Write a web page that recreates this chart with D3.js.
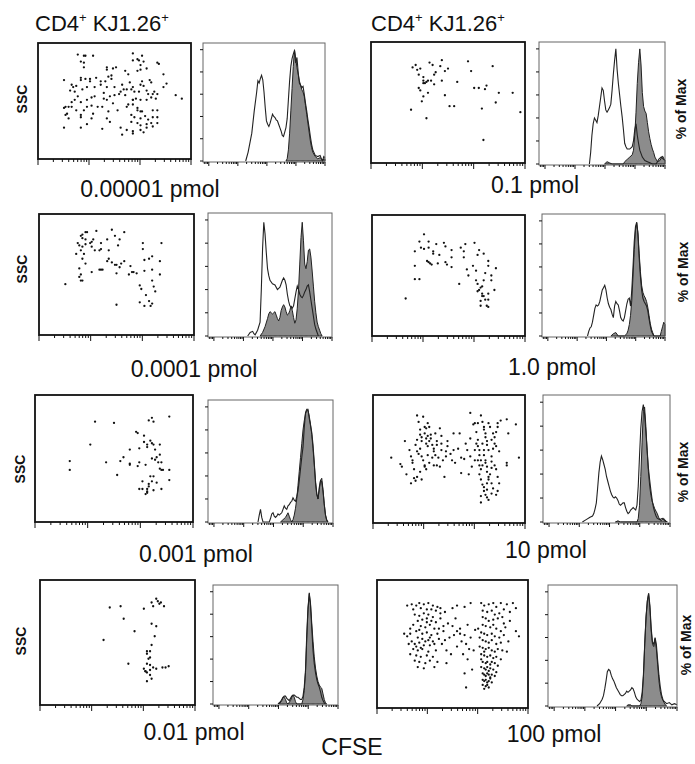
<!DOCTYPE html>
<html>
<head>
<meta charset="utf-8">
<script src="https://cdn.jsdelivr.net/npm/d3@7"></script>
<style>
body{margin:0;background:#fff}
svg text{font-family:"Liberation Sans",Arial,Helvetica,sans-serif;fill:#111}
</style>
</head>
<body>
<svg id="fig" width="695" height="764"></svg>
<script>
// panel order: row by row, left column then right column
const doses = ["0.00001 pmol","0.1 pmol","0.0001 pmol","1.0 pmol","0.001 pmol","10 pmol","0.01 pmol","100 pmol"];
const yTicksPct = [0,20,40,60,80,100];

// dot plots: [CFSE channel (0-100), SSC channel (0-100)]
const ssc_e5 = [[26,90],[30,89],[31,89],[36,89],[28,84],[30,83],[30,79],[28,70],[28,68],[31,69],[34,69],[34,67],[17,68],[22,64],[23,62],[25,63],[21,59],[24,58],[29,60],[32,62],[37,62],[38,70],[41,67],[41,64],[26,54],[24,51],[22,49],[28,49],[32,51],[35,53],[37,54],[18,45],[20,45],[22,45],[25,42],[28,38],[30,42],[32,45],[35,46],[39,45],[42,45],[43,52],[17,44],[20,35],[19,39],[28,36],[32,30],[28,27],[17,27],[35,35],[42,26],[36,39],[18,38],
  [45,79],[45,77],[49,78],[51,79],[46,71],[48,69],[48,72],[44,67],[45,62],[50,62],[43,57],[45,51],[47,54],[50,55],[53,56],[54,58],[55,64],[56,60],[58,60],[49,48],[52,42],[46,41],[45,35],[47,32],[54,27],[57,76],[59,73],[60,66],[57,55],[58,45],[62,51],
  [62,91],[62,85],[65,86],[66,85],[68,89],[69,84],[67,81],[65,76],[67,77],[71,78],[78,83],[79,82],[82,73],[62,62],[63,58],[61,60],[66,58],[67,64],[69,63],[68,67],[73,68],[74,66],[71,59],[72,56],[75,56],[76,58],[78,56],[82,62],[84,65],[64,52],[62,51],[67,51],[71,51],[74,53],[77,52],[59,47],[62,47],[65,44],[67,41],[65,42],[68,41],[61,38],[63,36],[67,35],[70,37],[72,34],[75,36],[78,36],[61,32],[65,31],[67,29],[71,30],[74,31],[78,31],[58,25],[62,24],[67,25],[71,27],[75,28],[55,21],[62,22],[69,23],[90,55],[94,52],[75,42],[78,42]];
const ssc_e1 = [[27,79],[29,81],[30,77],[32,78],[31,73],[34,71],[34,68],[36,67],[37,68],[39,68],[34,66],[35,66],[38,83],[40,81],[42,75],[41,73],[41,65],[46,85],[45,80],[48,76],[50,78],[46,68],[48,56],[51,47],[54,47],[56,67],[31,62],[32,60],[37,58],[34,55],[33,51],[36,37],[26,44],[63,84],[65,76],[67,62],[70,62],[74,61],[75,64],[79,80],[83,58],[81,50],[72,45],[73,19],[92,58],[97,42]];
const ssc_e4 = [[27,82],[28,83],[30,85],[31,85],[28,80],[30,79],[25,76],[26,74],[28,73],[30,75],[33,76],[34,77],[35,79],[34,73],[37,86],[39,70],[36,70],[40,71],[40,76],[44,79],[47,87],[49,82],[55,85],[52,79],[51,74],[45,70],[45,63],[44,61],[41,54],[40,54],[24,67],[27,70],[29,67],[28,63],[30,59],[26,55],[27,50],[27,45],[28,45],[26,48],[34,52],[39,54],[47,60],[49,58],[50,58],[52,56],[50,51],[53,59],[55,61],[59,57],[58,50],[60,52],[61,52],[63,51],[67,76],[67,71],[68,62],[71,63],[73,65],[78,61],[79,76],[68,53],[73,54],[78,50],[65,41],[66,38],[73,45],[74,40],[75,36],[69,33],[65,27],[68,24],[71,28],[73,26],[72,24],[17,42],[50,25]];
const ssc_1 = [[34,84],[31,78],[28,70],[32,73],[34,72],[37,78],[37,73],[40,70],[36,62],[37,61],[38,60],[39,59],[40,68],[42,76],[43,60],[44,67],[47,77],[48,74],[48,61],[49,59],[52,71],[52,65],[52,57],[28,58],[28,47],[31,47],[58,73],[60,70],[61,76],[60,65],[57,43],[62,55],[63,50],[66,58],[67,77],[68,54],[69,67],[70,71],[73,68],[68,46],[69,43],[70,38],[71,40],[72,41],[73,46],[74,52],[76,62],[78,50],[76,58],[78,46],[80,38],[81,56],[69,37],[72,35],[72,33],[73,33],[74,30],[71,29],[76,30],[76,35],[71,25],[76,24],[75,25],[22,31]];
const ssc_e3 = [[38,79],[50,78],[72,80],[74,82],[75,79],[85,83],[65,70],[64,71],[35,61],[69,68],[69,63],[71,61],[73,64],[74,62],[75,61],[79,61],[60,57],[66,58],[71,59],[76,57],[56,51],[54,48],[45,47],[60,46],[60,45],[65,44],[66,47],[70,45],[74,50],[76,49],[77,51],[78,47],[79,53],[80,47],[79,42],[80,41],[81,41],[85,41],[22,48],[22,41],[52,37],[68,32],[73,36],[75,36],[74,32],[72,30],[72,28],[71,26],[68,26],[71,24],[70,22],[71,23],[75,25],[77,31],[80,26],[85,33],[66,26]];
const ssc_10 = [[12,51],[18,46],[19,44],[21,64],[22,38],[24,57],[25,52],[26,49],[26,47],[27,42],[27,35],[28,33],[29,36],[25,31],[29,84],[30,79],[31,73],[31,69],[32,67],[32,64],[33,83],[34,75],[34,70],[35,66],[35,62],[36,60],[36,68],[37,64],[29,56],[30,54],[31,58],[32,52],[33,49],[34,45],[34,44],[35,42],[35,74],[36,78],[37,75],[38,69],[38,66],[39,61],[40,58],[40,56],[41,53],[41,70],[42,64],[42,61],[43,51],[44,74],[45,68],[45,62],[45,57],[46,49],[47,36],[48,56],[48,52],[49,64],[49,60],[51,54],[52,49],[53,70],[53,57],[54,47],[56,58],[57,70],[58,51],[60,50],[61,62],[62,57],[63,38],[64,66],[58,39],[29,65],[28,61],[31,40],[32,34],[37,47],[40,45],[36,53],[39,51],[44,44],[42,45],
  [64,86],[66,77],[67,78],[68,71],[69,65],[69,60],[70,57],[70,53],[71,49],[71,84],[72,79],[73,75],[73,73],[74,70],[74,67],[75,64],[75,61],[76,57],[73,57],[73,53],[74,49],[74,47],[75,44],[75,40],[76,36],[72,45],[71,42],[70,38],[71,34],[72,30],[73,28],[73,25],[74,22],[71,21],[75,26],[75,31],[76,34],[77,38],[78,43],[78,48],[78,52],[79,58],[80,62],[80,67],[81,71],[82,75],[82,78],[84,80],[88,81],[89,70],[94,77],[96,51],[88,47],[88,45],[78,31],[79,27],[81,22],[82,25],[83,31],[82,36],[81,42],[80,45],[76,18],[75,20],[78,23],[71,16],[68,62],[67,57],[67,49],[65,44],[64,52],[69,78],[77,75],[79,70],[76,78],[78,65],[81,60],[83,56],[72,62],[69,49],[70,45]];
const ssc_e2 = [[45,78],[52,79],[67,77],[72,82],[73,79],[75,85],[76,83],[77,81],[78,82],[80,79],[54,69],[72,65],[75,63],[61,59],[74,55],[41,52],[72,48],[69,43],[71,43],[69,41],[71,38],[70,37],[69,33],[71,32],[73,30],[57,33],[67,29],[68,27],[69,26],[71,28],[75,29],[79,30],[81,30],[83,31],[71,24],[72,21],[69,19],[68,27]];
const ssc_100 = [[20,80],[23,81],[26,80],[28,82],[31,81],[34,82],[37,80],[40,79],[24,77],[29,78],[33,77],[36,77],[39,76],[42,78],[45,75],[25,73],[28,72],[31,74],[34,73],[37,71],[27,68],[30,69],[33,67],[36,68],[39,67],[42,70],[24,65],[29,64],[32,63],[35,65],[38,62],[44,64],[47,66],[22,58],[26,60],[30,58],[33,59],[36,57],[40,58],[27,55],[30,54],[34,53],[37,52],[41,54],[45,53],[48,55],[21,50],[25,50],[28,51],[31,49],[35,49],[38,50],[43,50],[24,46],[27,45],[30,46],[34,44],[39,45],[22,42],[26,41],[29,40],[33,41],[37,40],[25,37],[28,36],[32,35],[35,37],[40,36],[46,35],[27,32],[31,31],[38,32],[20,56],[23,52],[26,48],[29,47],[32,52],[35,55],[28,61],[33,70],[41,62],[44,60],[46,45],[49,42],[18,58],[22,62],[42,74],
  [50,78],[53,80],[58,79],[62,82],[50,64],[53,60],[55,62],[58,57],[51,57],[56,52],[59,50],[61,46],[53,48],[57,42],[60,38],[63,30],[58,27],[55,58],[64,45],[62,55],[65,61],[52,70],[60,65],[59,16],
  [69,82],[71,80],[74,81],[77,82],[79,79],[82,82],[86,81],[90,82],[70,76],[73,75],[76,76],[78,73],[81,74],[70,71],[72,70],[74,68],[77,69],[80,70],[83,71],[70,65],[72,64],[75,63],[77,65],[79,62],[82,60],[85,63],[69,59],[71,58],[73,57],[76,58],[78,56],[81,55],[84,57],[70,53],[72,52],[74,51],[76,53],[79,50],[82,51],[87,52],[68,48],[70,47],[72,46],[74,47],[76,45],[78,44],[80,46],[83,45],[86,44],[69,42],[71,41],[73,40],[75,41],[77,39],[79,40],[82,38],[70,36],[72,35],[73,36],[75,34],[76,36],[78,35],[80,33],[69,32],[71,31],[72,30],[73,32],[74,29],[75,31],[77,30],[79,28],[70,27],[71,26],[72,25],[73,27],[74,26],[75,24],[76,26],[78,25],[70,22],[71,21],[72,22],[73,20],[74,21],[75,23],[76,20],[70,18],[72,17],[73,18],[74,16],[71,15],[69,38],[71,44],[68,55],[67,62],[84,66],[88,75],[92,60],[94,56],[84,77],[88,68],[92,78]];

// histograms: [CFSE channel (0-100), % of max]; open = unfilled trace, fill = grey trace
const open_e5 = [[35,0],[37,8],[40,25],[42,45],[44,62],[45,72],[46,70],[47,74],[48,77],[49,73],[50,62],[51,48],[52,36],[53,33],[54,31],[55,34],[56,38],[57,42],[58,40],[59,39],[60,37],[61,36],[62,33],[63,30],[64,27],[65,23],[66,22],[67,26],[68,30],[69,38],[70,55],[71,72],[72,85],[73,92],[74,96],[75,99],[76,88],[77,93],[78,80],[79,70],[80,68],[81,66],[82,67],[83,60],[84,52],[85,45],[86,37],[87,30],[88,22],[89,15],[90,10],[92,5],[94,4],[96,5],[97,2],[98,0],[99,4],[100,3]];
const fill_e5 = [[68,0],[69,2],[70,10],[71,25],[72,45],[73,65],[74,85],[75,100],[76,92],[77,84],[78,78],[79,72],[80,68],[81,64],[82,62],[83,58],[84,50],[85,42],[86,34],[87,26],[88,18],[89,12],[90,8],[92,4],[94,2],[96,3],[98,1],[100,2]];
const open_e1 = [[40,0],[41,10],[42,25],[43,35],[44,40],[45,38],[46,36],[47,42],[48,50],[49,58],[50,66],[51,64],[52,55],[53,47],[54,45],[55,47],[56,49],[57,52],[58,64],[59,78],[60,90],[61,100],[62,82],[63,70],[64,60],[65,50],[66,41],[67,30],[68,18],[69,15],[70,13],[71,13],[72,13],[73,14],[74,15],[75,20],[76,30],[77,35],[78,25],[79,18],[80,12],[82,6],[84,3],[86,2],[88,1],[90,0],[93,0],[95,4],[97,6],[100,3]];
const fill_e1 = [[52,0],[54,2],[56,1],[58,0],[67,0],[68,2],[70,4],[72,6],[74,8],[75,12],[76,25],[77,45],[78,70],[79,88],[80,100],[81,86],[82,62],[83,50],[84,46],[85,44],[86,36],[87,28],[88,22],[89,17],[90,13],[91,10],[92,6],[94,2],[96,3],[98,7],[100,3]];
const open_e4 = [[32,0],[34,3],[36,4],[37,2],[38,1],[40,5],[42,12],[43,40],[44,75],[45,98],[46,88],[47,72],[48,58],[49,52],[50,48],[52,45],[54,44],[56,40],[58,42],[60,48],[61,50],[62,48],[63,44],[64,36],[65,30],[66,26],[67,25],[68,24],[69,26],[70,32],[71,38],[72,43],[73,40],[74,36],[75,34],[76,33],[77,35],[78,38],[79,40],[80,43],[81,44],[82,38],[83,31],[84,24],[85,17],[86,10],[87,6],[88,3],[89,0]];
const fill_e4 = [[42,0],[44,3],[46,8],[48,15],[49,19],[50,21],[51,20],[52,19],[53,20],[54,21],[55,18],[56,15],[57,13],[58,16],[59,22],[60,25],[61,27],[62,25],[63,21],[64,18],[65,19],[66,22],[67,26],[68,22],[69,16],[70,11],[71,14],[72,24],[73,40],[74,62],[75,85],[76,98],[77,82],[78,62],[79,58],[80,64],[81,74],[82,75],[83,68],[84,56],[85,43],[86,30],[87,20],[88,12],[89,8],[90,5],[91,2],[92,0]];
const open_1 = [[37,0],[38,4],[39,7],[40,8],[41,12],[42,18],[43,24],[44,27],[45,26],[46,27],[47,30],[48,35],[49,40],[50,42],[51,44],[52,40],[53,33],[54,28],[55,25],[56,23],[57,19],[58,16],[59,26],[60,30],[61,28],[62,27],[63,22],[64,16],[65,14],[66,13],[67,16],[68,22],[69,28],[70,32],[71,33],[72,26],[73,40],[74,60],[75,82],[76,95],[77,99],[78,88],[79,68],[80,52],[81,40],[82,33],[83,30],[84,28],[85,26],[86,22],[87,15],[88,9],[89,4],[90,2],[91,0]];
const fill_1 = [[56,0],[58,2],[60,3],[62,0],[67,0],[69,2],[70,5],[71,10],[72,18],[73,31],[74,52],[75,75],[76,92],[77,98],[78,90],[79,72],[80,56],[81,44],[82,38],[83,35],[84,33],[85,30],[86,25],[87,18],[88,11],[89,6],[90,3],[91,0],[96,0],[97,4],[98,8],[99,12],[100,10]];
const open_e3 = [[40,0],[41,6],[42,11],[43,4],[44,0],[49,0],[50,3],[51,7],[52,8],[53,5],[54,4],[55,5],[56,7],[57,6],[58,7],[59,8],[60,11],[61,14],[62,12],[63,11],[64,14],[65,15],[66,17],[67,18],[68,21],[69,19],[70,18],[71,22],[72,27],[73,36],[74,46],[75,56],[76,65],[77,82],[78,95],[79,98],[80,98],[81,90],[82,84],[83,78],[84,67],[85,52],[86,34],[87,24],[88,20],[89,30],[90,36],[91,35],[92,27],[93,15],[94,6],[95,2],[96,0]];
const fill_e3 = [[58,0],[60,2],[62,4],[64,8],[65,5],[66,2],[67,0],[68,2],[69,6],[70,12],[71,20],[72,32],[73,44],[74,56],[75,68],[76,80],[77,88],[78,94],[79,97],[80,97],[81,92],[82,85],[83,76],[84,64],[85,50],[86,36],[87,25],[88,20],[89,28],[90,36],[91,38],[92,28],[93,16],[94,6],[95,1],[96,0]];
const open_10 = [[31,0],[34,2],[37,4],[39,5],[40,7],[41,11],[42,16],[43,28],[44,41],[45,50],[46,55],[47,52],[48,48],[49,44],[50,38],[51,34],[52,30],[53,26],[54,23],[55,21],[56,20],[57,21],[58,20],[59,18],[60,15],[61,14],[62,15],[63,16],[64,16],[65,12],[66,9],[67,7],[68,8],[69,10],[70,11],[71,12],[72,11],[73,10],[74,14],[75,30],[76,55],[77,78],[78,92],[79,98],[80,90],[81,75],[82,60],[83,45],[84,35],[85,26],[86,18],[87,12],[88,8],[89,5],[90,3],[92,2],[94,3],[96,1],[98,0]];
const fill_10 = [[57,0],[59,1],[61,0],[74,0],[75,3],[76,14],[77,38],[78,66],[79,92],[80,96],[81,80],[82,60],[83,42],[84,30],[85,22],[86,17],[87,14],[88,11],[89,9],[90,7],[91,4],[92,2],[93,1],[94,2],[95,3],[96,2],[97,0]];
const open_e2 = [[52,0],[54,2],[55,4],[56,6],[57,7],[58,7],[59,5],[60,4],[61,3],[62,5],[63,7],[64,8],[65,8],[66,7],[67,6],[68,6],[69,5],[70,4],[71,4],[72,7],[73,15],[74,30],[75,62],[76,86],[77,98],[78,88],[79,68],[80,48],[81,36],[82,28],[83,22],[84,18],[85,15],[86,11],[87,6],[88,3],[89,1],[90,0]];
const fill_e2 = [[53,0],[55,3],[56,6],[57,6],[58,4],[59,1],[60,0],[62,3],[63,6],[64,8],[65,6],[66,2],[67,0],[71,0],[72,4],[73,12],[74,28],[75,58],[76,84],[77,99],[78,90],[79,72],[80,56],[81,42],[82,32],[83,25],[84,20],[85,17],[86,15],[87,14],[88,9],[89,4],[90,1],[91,0]];
const open_100 = [[38,0],[40,2],[42,6],[43,9],[44,15],[45,22],[46,30],[47,32],[48,31],[49,27],[50,24],[51,22],[52,19],[53,16],[54,14],[55,12],[56,10],[57,9],[58,9],[59,10],[60,11],[61,13],[62,12],[63,13],[64,14],[65,16],[66,15],[67,12],[68,8],[69,6],[70,5],[71,4],[72,5],[73,12],[74,28],[75,55],[76,78],[77,92],[78,99],[79,88],[80,68],[81,56],[82,54],[83,60],[84,54],[85,40],[86,27],[87,17],[88,10],[89,6],[90,4],[92,2],[94,3],[96,1],[98,2],[100,1]];
const fill_100 = [[61,0],[62,1],[64,1],[65,0],[71,0],[72,2],[73,8],[74,26],[75,55],[76,78],[77,92],[78,98],[79,86],[80,66],[81,54],[82,52],[83,59],[84,50],[85,36],[86,22],[87,13],[88,8],[89,5],[90,3],[91,1],[92,0]];

// page layout: boxes as [left, right, top, bottom]
const layout = [
  {dot:[38,191,43,159], hist:[203,325,43,162], lab:[150,197], side:["ssc",22,99]},
  {dot:[371,525,42,163], hist:[539,665,42,165], lab:[535,193], side:["max",681,109]},
  {dot:[39,194,214,335], hist:[208,332,213,337], lab:[194,377], side:["ssc",22,269]},
  {dot:[372,525,215,336], hist:[542,665,214,337], lab:[552,375], side:["max",683,272]},
  {dot:[35,193,395,522], hist:[208,333,400,523], lab:[196,562], side:["ssc",20,469]},
  {dot:[373,525,395,523], hist:[543,670,395,523], lab:[546,558], side:["max",683,472]},
  {dot:[40,195,580,705], hist:[213,338,585,705], lab:[194,740], side:["ssc",21,641]},
  {dot:[377,528,580,708], hist:[548,677,585,707], lab:[554,742], side:["max",686,645]}
];

const dotSets = [ssc_e5, ssc_e1, ssc_e4, ssc_1, ssc_e3, ssc_10, ssc_e2, ssc_100];
const openSets = [open_e5, open_e1, open_e4, open_1, open_e3, open_10, open_e2, open_100];
const fillSets = [fill_e5, fill_e1, fill_e4, fill_1, fill_e3, fill_10, fill_e2, fill_100];

const svg = d3.select("#fig");
const isDecade = v => Math.abs(Math.log10(v) - Math.round(Math.log10(v))) < 1e-9;

function logTicks(g, lg, yb, big, small) {
  const tv = lg.ticks();
  g.append("g").selectAll("line").data(tv).join("line")
    .attr("x1", d=>lg(d)).attr("x2", d=>lg(d))
    .attr("y1", yb).attr("y2", d=>yb + (isDecade(d) ? big : small))
    .attr("stroke", "#111").attr("stroke-width", 1);
}

function drawDots(g, box, pts) {
  const [x0,x1,y0,y1] = box;
  const x = d3.scaleLinear().domain([0,100]).range([x0,x1]),
        y = d3.scaleLinear().domain([0,100]).range([y1,y0]),
        lg = d3.scaleLog().domain([10,1e4]).range([x0,x1]);
  g.append("g").selectAll("circle").data(pts).join("circle")
    .attr("cx", d=>x(d[0])).attr("cy", d=>y(d[1])).attr("r", 1.15).attr("fill", "#111");
  g.append("rect").attr("x", x0).attr("y", y0).attr("width", x1-x0).attr("height", y1-y0)
    .attr("fill", "none").attr("stroke", "#111").attr("stroke-width", 1.8);
  logTicks(g, lg, y1, 6, 3);
}

function drawHist(g, box, open, fill) {
  const [x0,x1,y0,y1] = box;
  const x = d3.scaleLinear().domain([0,100]).range([x0,x1]),
        y = d3.scaleLinear().domain([0,106]).range([y1-1,y0]),
        lg = d3.scaleLog().domain([Math.pow(10,0.8),1e5]).range([x0,x1]);
  const area = d3.area().x(d=>x(d[0])).y0(y(0)).y1(d=>y(d[1])),
        line = d3.line().x(d=>x(d[0])).y(d=>y(d[1]));
  g.append("path").datum(fill).attr("d", area)
    .attr("fill", "#8c8c8c").attr("stroke", "#222").attr("stroke-width", 1);
  g.append("path").datum(open).attr("d", line)
    .attr("fill", "none").attr("stroke", "#222").attr("stroke-width", 1.1);
  g.append("rect").attr("x", x0).attr("y", y0).attr("width", x1-x0).attr("height", y1-y0)
    .attr("fill", "none").attr("stroke", "#666").attr("stroke-width", 1);
  g.append("g").selectAll("line").data(yTicksPct).join("line")
    .attr("x1", x0-3).attr("x2", x0).attr("y1", d=>y(d)).attr("y2", d=>y(d))
    .attr("stroke", "#111");
  logTicks(g, lg, y1, 4, 2);
}

layout.forEach((p,i)=>{
  const g = svg.append("g");
  drawDots(g, p.dot, dotSets[i]);
  drawHist(g, p.hist, openSets[i], fillSets[i]);
  g.append("text").attr("x", p.lab[0]).attr("y", p.lab[1])
    .attr("text-anchor", "middle").attr("font-size", 23).text(doses[i]);
  const [kind, sx, sy] = p.side;
  g.append("text").attr("transform", `translate(${sx},${sy}) rotate(-90)`)
    .attr("text-anchor", "middle").attr("dominant-baseline", "central")
    .attr("font-size", 14).attr("font-weight", "bold")
    .text(kind === "ssc" ? "SSC" : "% of Max");
});

// column headings
[35, 371].forEach(x0=>{
  const t = svg.append("text").attr("x", x0).attr("y", 31).attr("font-size", 22);
  t.append("tspan").text("CD4");
  t.append("tspan").attr("dy", -9).attr("font-size", 13).text("+");
  t.append("tspan").attr("dy", 9).text(" KJ1.26");
  t.append("tspan").attr("dy", -9).attr("font-size", 13).text("+");
});

svg.append("text").attr("x", 352).attr("y", 755).attr("text-anchor", "middle")
  .attr("font-size", 23).text("CFSE");
</script>
</body>
</html>
